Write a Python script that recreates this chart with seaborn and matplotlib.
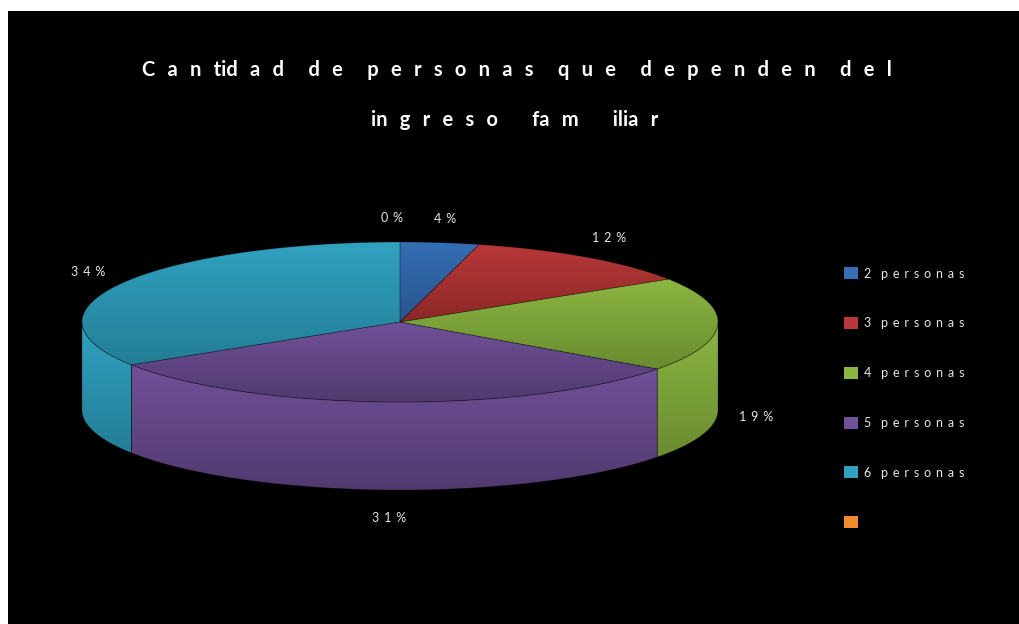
import numpy as np
import matplotlib
matplotlib.use("Agg")
import matplotlib.pyplot as plt
from matplotlib.patches import Polygon, Patch
from matplotlib.colors import to_rgb
import seaborn as sns

sns.set_theme(style="dark", rc={"axes.facecolor": "black", "figure.facecolor": "white"})
plt.rcParams['font.family'] = ['Lato', 'DejaVu Sans']

# data
categories = ['2 personas', '3 personas', '4 personas', '5 personas', '6 personas', '']
percent = [4, 12, 19, 31, 34, 0]
light_cols = ['#346EB4', '#B93737', '#8CB642', '#705098', '#30A2C0', '#F08C2E']
dark_cols = ['#28558C', '#8C2828', '#698C30', '#523A70', '#247D96', '#C86A1E']

# title words, split the way the spread-out lettering shows them
title_1 = [['C', 'a', 'n', 'tid', 'a', 'd'], ['d', 'e'],
           ['p', 'e', 'r', 's', 'o', 'n', 'a', 's'], ['q', 'u', 'e'],
           ['d', 'e', 'p', 'e', 'n', 'd', 'e', 'n'], ['d', 'e', 'l']]
title_2 = [['in', 'g', 'r', 'e', 's', 'o'], ['fa', 'm'], ['ilia', 'r']]

# geometry of the 3d pie (pixel coords, y down)
cx, cy = 400, 322
rx, ry = 318, 80
depth = 88

GAP = ' \u2009'


def spread(words, outer=6):
    inner = '  \u2009'
    return (' ' * outer).join(inner.join(w) for w in words)


def arc(a0, a1, dy=0, n=120):
    t = np.radians(np.linspace(a0, a1, n))
    return np.column_stack([cx + rx * np.cos(t), cy - ry * np.sin(t) + dy])


def gradient_fill(ax, pts, c_top, c_bot):
    poly = Polygon(pts, closed=True, facecolor='none',
                   edgecolor=(0, 0, 0, 0.25), linewidth=0.6, zorder=3)
    ax.add_patch(poly)
    y0, y1 = pts[:, 1].min(), pts[:, 1].max()
    x0, x1 = pts[:, 0].min(), pts[:, 0].max()
    k = np.linspace(0, 1, 64)[:, None]
    grad = (1 - k) * np.array(to_rgb(c_top)) + k * np.array(to_rgb(c_bot))
    im = ax.imshow(grad[:, None, :].repeat(2, axis=1), extent=(x0, x1, y1, y0),
                   origin='upper', aspect='auto', zorder=2, interpolation='bilinear')
    im.set_clip_path(poly)


fig = plt.figure(figsize=(10.19, 6.24), dpi=100)
ax = fig.add_axes([8 / 1019, 0, 1011 / 1019, 613 / 624])
ax.set_facecolor('black')

frac = np.array(percent) / sum(percent)
cum = np.concatenate([[0], np.cumsum(frac)])
starts = 90 - 360 * cum[:-1]
ends = 90 - 360 * cum[1:]

# side walls (front half only)
for i in range(len(percent)):
    lo, hi = max(ends[i], -180), min(starts[i], 0)
    if hi - lo > 0.01:
        top = arc(hi, lo)
        bot = arc(lo, hi, dy=depth)
        gradient_fill(ax, np.vstack([top, bot]), light_cols[i], dark_cols[i])

# top faces
for i in range(len(percent)):
    if starts[i] - ends[i] > 0.01:
        pts = np.vstack([[cx, cy], arc(starts[i], ends[i])])
        gradient_fill(ax, pts, light_cols[i], dark_cols[i])

# value labels
for i, p in enumerate(percent):
    mid = np.radians((starts[i] + ends[i]) / 2)
    lx = cx + rx * 1.12 * np.cos(mid)
    ly = cy - ry * 1.3 * np.sin(mid)
    if np.sin(mid) < 0:
        ly += depth + 4
    if p == 0:
        lx -= 8
    ax.text(lx, ly, GAP.join(str(p)) + GAP + '%', color='#E6E6E6', fontsize=9,
            ha='center', va='center', zorder=5)

ax.text(517, 70, spread(title_1, outer=5), color='white', fontsize=14.5,
        fontweight='bold', ha='center', va='center')
ax.text(515, 120, spread(title_2, outer=7), color='white', fontsize=14.5,
        fontweight='bold', ha='center', va='center')

handles = [Patch(facecolor=c, edgecolor='none') for c in light_cols]
labels = [(c[0] + '   ' + GAP.join(c[2:])) if c else '' for c in categories]
leg = ax.legend(handles, labels, loc='upper left', bbox_to_anchor=(0.816, 0.6),
                frameon=False, fontsize=9, labelcolor='#E6E6E6',
                handlelength=1.1, handleheight=1.1, labelspacing=3.0,
                handletextpad=0.5)

ax.set_xlim(8, 1019)
ax.set_ylim(624, 11)
ax.set_xticks([])
ax.set_yticks([])
for s in ax.spines.values():
    s.set_visible(False)

fig.savefig('out.png', dpi=100, facecolor='white')
